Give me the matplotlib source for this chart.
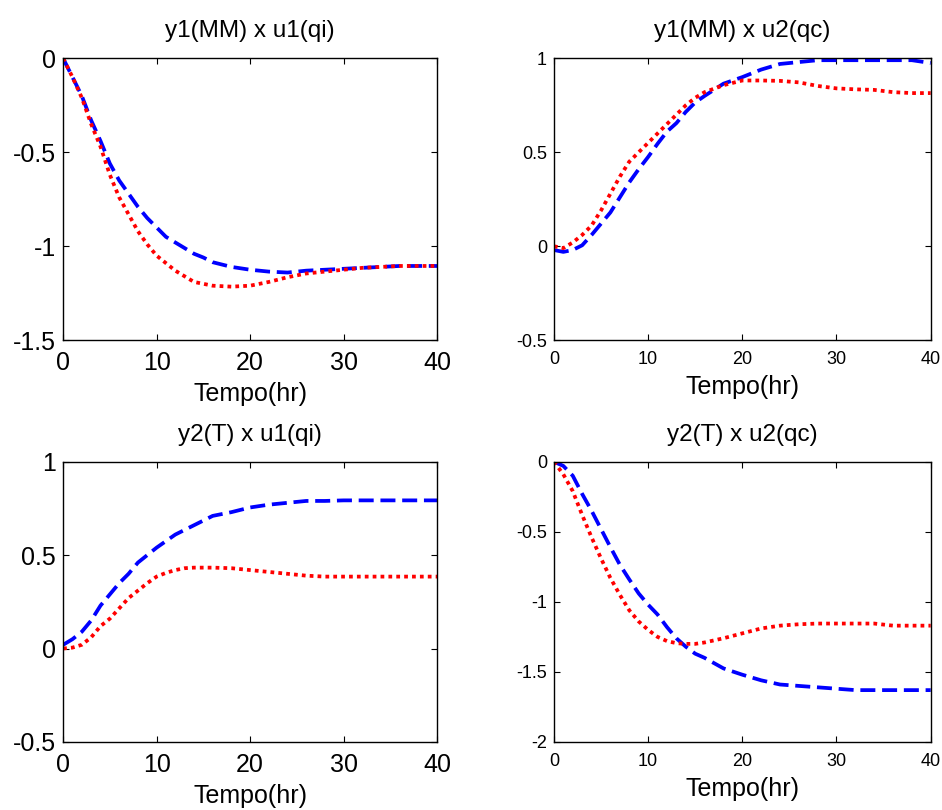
import numpy as np
import matplotlib
matplotlib.use("Agg")
import matplotlib.pyplot as plt

plt.rcParams['font.family'] = ['Liberation Sans', 'DejaVu Sans']

# tempo (hr)
t = [0, 1, 2, 3, 4, 5, 6, 7, 8, 9, 10, 11, 12, 13, 14, 15, 16,
     18, 20, 22, 24, 26, 28, 30, 32, 34, 36, 38, 40]

# y1(MM) x u1(qi)
y11_blue = [0, -0.10, -0.20, -0.33, -0.44, -0.56, -0.65, -0.72, -0.79, -0.85, -0.90,
            -0.95, -0.98, -1.01, -1.04, -1.06, -1.085, -1.11, -1.125, -1.135, -1.14,
            -1.13, -1.125, -1.12, -1.115, -1.11, -1.105, -1.105, -1.105]
y11_red = [0, -0.10, -0.21, -0.35, -0.47, -0.62, -0.74, -0.83, -0.92, -0.99, -1.05,
           -1.09, -1.13, -1.16, -1.19, -1.20, -1.21, -1.215, -1.21, -1.19, -1.165,
           -1.145, -1.135, -1.125, -1.115, -1.11, -1.105, -1.105, -1.105]

# y1(MM) x u2(qc)
y12_blue = [-0.02, -0.03, -0.02, 0.005, 0.06, 0.12, 0.18, 0.26, 0.34, 0.41, 0.475,
            0.545, 0.61, 0.655, 0.715, 0.765, 0.80, 0.865, 0.90, 0.94, 0.97,
            0.98, 0.99, 0.99, 0.99, 0.99, 0.99, 0.99, 0.975]
y12_red = [0.0, -0.01, 0.02, 0.06, 0.11, 0.19, 0.28, 0.37, 0.45, 0.50, 0.55,
           0.60, 0.65, 0.70, 0.75, 0.79, 0.82, 0.857, 0.882, 0.882, 0.88,
           0.872, 0.853, 0.84, 0.835, 0.832, 0.82, 0.815, 0.815]

# y2(T) x u1(qi)
y21_blue = [0.02, 0.05, 0.09, 0.15, 0.23, 0.29, 0.35, 0.40, 0.46, 0.50, 0.54,
            0.575, 0.61, 0.635, 0.66, 0.685, 0.71, 0.73, 0.755, 0.77, 0.78,
            0.79, 0.79, 0.793, 0.793, 0.793, 0.793, 0.793, 0.793]
y21_red = [0, 0.005, 0.02, 0.06, 0.12, 0.16, 0.215, 0.27, 0.31, 0.35, 0.385,
           0.405, 0.42, 0.43, 0.433, 0.433, 0.433, 0.43, 0.42, 0.41, 0.40,
           0.39, 0.385, 0.385, 0.385, 0.385, 0.385, 0.385, 0.385]

# y2(T) x u2(qc)
y22_blue = [0.0, -0.03, -0.10, -0.23, -0.35, -0.48, -0.61, -0.735, -0.84, -0.94, -1.02,
            -1.09, -1.18, -1.26, -1.32, -1.37, -1.40, -1.475, -1.52, -1.56, -1.59,
            -1.60, -1.61, -1.62, -1.63, -1.63, -1.63, -1.63, -1.63]
y22_red = [0, -0.09, -0.21, -0.38, -0.54, -0.69, -0.83, -0.95, -1.06, -1.14, -1.20,
           -1.25, -1.28, -1.295, -1.30, -1.30, -1.29, -1.26, -1.225, -1.19, -1.17,
           -1.16, -1.155, -1.155, -1.155, -1.155, -1.17, -1.17, -1.17]

titles = ['y1(MM) x u1(qi)', 'y1(MM) x u2(qc)', 'y2(T) x u1(qi)', 'y2(T) x u2(qc)']
blues = [y11_blue, y12_blue, y21_blue, y22_blue]
reds = [y11_red, y12_red, y21_red, y22_red]
ylims = [(-1.5, 0), (-0.5, 1), (-0.5, 1), (-2, 0)]
yticks = [[-1.5, -1, -0.5, 0], [-0.5, 0, 0.5, 1], [-0.5, 0, 0.5, 1], [-2, -1.5, -1, -0.5, 0]]
ytlabels = [['-1.5', '-1', '-0.5', '0'], ['-0.5', '0', '0.5', '1'],
            ['-0.5', '0', '0.5', '1'], ['-2', '-1.5', '-1', '-0.5', '0']]
xticks = [0, 10, 20, 30, 40]

# posicoes dos eixos [left, bottom, width, height]
positions = [[0.067, 0.580, 0.397, 0.348],
             [0.588, 0.580, 0.400, 0.348],
             [0.067, 0.084, 0.397, 0.346],
             [0.588, 0.084, 0.400, 0.346]]
tick_sizes = [18, 13, 18, 13]

fig = plt.figure(figsize=(9.42, 8.10), dpi=100)

for i in range(4):
    ax = fig.add_axes(positions[i])
    ax.plot(t, blues[i], color=(0, 0, 1), linewidth=2.7, linestyle=(0, (4, 1.8)))
    ax.plot(t, reds[i], color=(1, 0, 0), linewidth=2.7, linestyle=(0, (1, 1.1)))
    ax.set_xlim(0, 40)
    ax.set_ylim(*ylims[i])
    ax.set_xticks(xticks)
    ax.set_xticklabels([str(v) for v in xticks])
    ax.set_yticks(yticks[i])
    ax.set_yticklabels(ytlabels[i])
    ax.tick_params(direction='in', top=True, right=True, length=4, width=0.8,
                   labelsize=tick_sizes[i])
    ax.tick_params(axis='x', pad=8)
    ax.tick_params(axis='y', pad=5)
    for s in ax.spines.values():
        s.set_linewidth(1.0)
    ax.set_title(titles[i], fontsize=17.5, pad=15)
    ax.set_xlabel('Tempo(hr)', fontsize=18, labelpad=5)

fig.savefig('out.png', dpi=100)
